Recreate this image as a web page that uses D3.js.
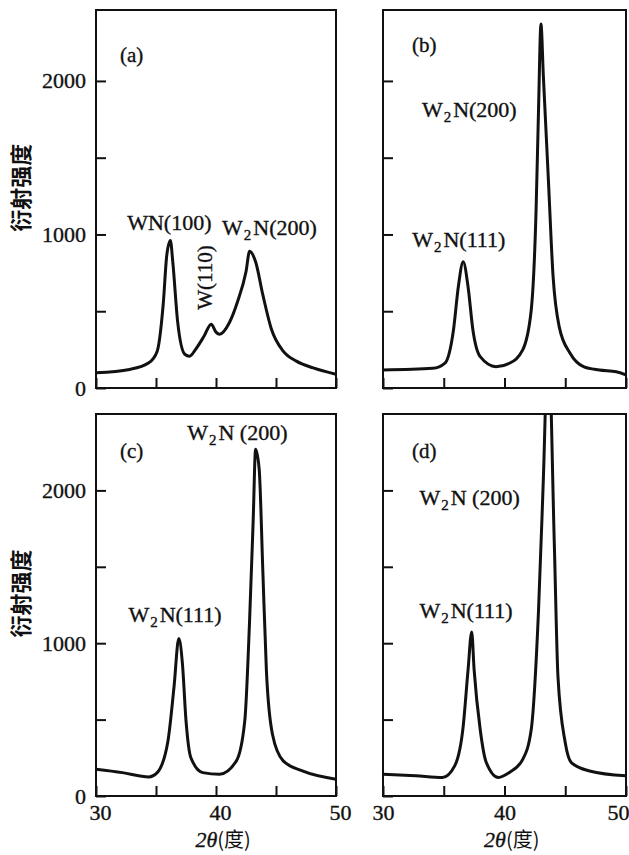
<!DOCTYPE html>
<html>
<head>
<meta charset="utf-8">
<script src="https://cdn.jsdelivr.net/npm/d3@7"></script>
<style>
  body { margin: 0; background: #fff; }
  text { font-family: "Liberation Serif", "DejaVu Serif", serif; fill: #111; stroke: #111; stroke-width: 0.35; }
  .cjk { font-family: "Noto Sans CJK SC", sans-serif; font-weight: bold; stroke: none; }
</style>
</head>
<body>
<svg id="chart" width="629" height="855"></svg>
<script>
// 2θ (deg) and diffraction intensity
var angleA = [30, 32.8, 34.4, 35.1, 35.6, 35.9, 36.2, 36.4, 36.8, 37.4, 37.8, 38.3, 39.0, 39.6, 40.0, 40.3, 41.1, 41.8, 42.5, 42.8, 43.3, 43.9, 44.6, 45.6, 46.7, 48.1, 50];
var intensityA = [99, 121, 164, 240, 545, 866, 960, 820, 434, 220, 207, 252, 337, 416, 364, 350, 423, 563, 757, 890, 822, 608, 388, 240, 175, 131, 90];

var angleB = [30, 34.1, 35.1, 35.8, 36.2, 36.6, 37.0, 37.4, 38.0, 39.3, 40.4, 41.5, 42.2, 42.6, 42.8, 43.0, 43.2, 43.6, 44.0, 44.5, 45.4, 46.5, 47.8, 49.2, 50];
var intensityB = [117, 128, 162, 378, 660, 823, 660, 378, 204, 139, 161, 248, 508, 1160, 1811, 2370, 2028, 1377, 725, 400, 226, 139, 117, 106, 85];

var angleC = [30, 32.2, 34.4, 35.1, 36.0, 36.5, 36.9, 37.2, 37.5, 37.9, 38.9, 40.3, 41.7, 42.4, 42.8, 43.1, 43.3, 43.6, 43.9, 44.2, 44.7, 45.6, 47.2, 50];
var intensityC = [175, 153, 125, 153, 362, 712, 1030, 868, 493, 252, 153, 143, 230, 493, 1151, 1809, 2270, 2138, 1480, 822, 406, 230, 164, 110];

var angleD = [30, 32.7, 34.9, 35.9, 36.6, 37.0, 37.3, 37.5, 38.0, 38.5, 39.5, 40.4, 41.5, 42.2, 42.8, 43.2, 43.6, 44.1, 44.4, 45.0, 45.5, 47.0, 50];
var intensityD = [143, 132, 121, 197, 456, 825, 1073, 825, 435, 219, 121, 154, 240, 435, 1214, 2080, 3000, 1650, 781, 349, 219, 164, 132];

var xTicks = [30, 35, 40, 45, 50];
var xLabels = [30, 40, 50];
var yTicks = [0, 500, 1000, 1500, 2000];
var yLabels = [0, 1000, 2000];

// peak annotations, positioned in data units (2θ, intensity)
var notesA = [
  { t: 'WN(100)', x: 32.6, y: 1030 },
  { t: 'W2N(200)', x: 40.5, y: 997 },
  { t: 'W(110)', x: 39.7, y: 720, rot: true }
];
var notesB = [
  { t: 'W2N(200)', x: 33.2, y: 1765 },
  { t: 'W2N(111)', x: 32.4, y: 918 }
];
var notesC = [
  { t: 'W2N (200)', x: 37.6, y: 2330 },
  { t: 'W2N(111)', x: 32.7, y: 1139 }
];
var notesD = [
  { t: 'W2N (200)', x: 33.0, y: 1904 },
  { t: 'W2N(111)', x: 33.0, y: 1165 }
];

var panels = [
  { tag: '(a)', angle: angleA, inten: intensityA, notes: notesA, left: 96,  top: 10,  w: 240, h: 378, yMax: 2462, yLab: true,  xLab: false },
  { tag: '(b)', angle: angleB, inten: intensityB, notes: notesB, left: 383, top: 10,  w: 243, h: 378, yMax: 2462, yLab: false, xLab: false },
  { tag: '(c)', angle: angleC, inten: intensityC, notes: notesC, left: 96,  top: 414, w: 240, h: 382, yMax: 2500, yLab: true,  xLab: true },
  { tag: '(d)', angle: angleD, inten: intensityD, notes: notesD, left: 383, top: 414, w: 243, h: 382, yMax: 2500, yLab: false, xLab: true }
];

var svg = d3.select('#chart');

function addLabel(sel, s) {
  // W2N -> W with subscript 2
  var m = s.match(/^W2N(.*)$/);
  if (!m) { sel.text(s); return; }
  sel.append('tspan').text('W');
  sel.append('tspan').attr('font-size', 15).attr('dy', 5).attr('dx', 1).text('2');
  sel.append('tspan').attr('dy', -5).attr('dx', 2).text('N' + m[1]);
}

panels.forEach(function (p, i) {
  var x = d3.scaleLinear().domain([30, 50]).range([0, p.w]);
  var y = d3.scaleLinear().domain([0, p.yMax]).range([p.h, 0]);

  var g = svg.append('g').attr('transform', 'translate(' + p.left + ',' + p.top + ')');

  g.append('clipPath').attr('id', 'clip' + i)
    .append('rect').attr('width', p.w).attr('height', p.h);

  var xAxis = d3.axisBottom(x)
    .tickValues(xTicks)
    .tickSize(-10)
    .tickPadding(8)
    .tickFormat(function (d) { return p.xLab && xLabels.indexOf(d) >= 0 ? d : ''; });

  var yAxis = d3.axisLeft(y)
    .tickValues(yTicks)
    .tickSize(-10)
    .tickPadding(10)
    .tickFormat(function (d) { return p.yLab && yLabels.indexOf(d) >= 0 ? d : ''; });

  var gx = g.append('g').attr('transform', 'translate(0,' + p.h + ')').call(xAxis);
  var gy = g.append('g').call(yAxis);
  [gx, gy].forEach(function (a) {
    a.select('.domain').remove();
    a.selectAll('line').attr('stroke', '#111').attr('stroke-width', 2);
    a.selectAll('text')
      .attr('font-family', '"Liberation Serif", serif')
      .attr('font-size', 22)
      .attr('fill', '#111');
  });
  // the last x label sits at the page edge in the source; keep it on the page
  if (i === 3) gx.selectAll('text').filter(function (d) { return d === 50; }).attr('text-anchor', 'end').attr('dx', 3);
  if (i === 2) gx.selectAll('text').attr('dx', 4);

  g.append('rect')
    .attr('width', p.w).attr('height', p.h)
    .attr('fill', 'none').attr('stroke', '#111').attr('stroke-width', 2);

  var pts = p.angle.map(function (a, k) { return [a, p.inten[k]]; });
  var line = d3.line()
    .x(function (d) { return x(d[0]); })
    .y(function (d) { return y(d[1]); })
    .curve(d3.curveMonotoneX);

  g.append('path')
    .datum(pts)
    .attr('clip-path', 'url(#clip' + i + ')')
    .attr('d', line)
    .attr('fill', 'none')
    .attr('stroke', '#111')
    .attr('stroke-width', 3)
    .attr('stroke-linejoin', 'round');

  g.append('text')
    .attr('x', x(p.angle[0]) + (i % 2 ? 29 : 24))
    .attr('y', i < 2 ? (i ? 42 : 52) : 44)
    .attr('font-size', 21)
    .text(p.tag);

  p.notes.forEach(function (n) {
    var t = g.append('text').attr('font-size', 22);
    if (n.rot) {
      t.attr('text-anchor', 'middle')
        .attr('font-size', 21)
        .attr('transform', 'translate(' + x(n.x) + ',' + y(n.y) + ') rotate(-90)');
    } else {
      t.attr('x', x(n.x)).attr('y', y(n.y));
    }
    addLabel(t, n.t);
  });

  if (p.yLab) {
    svg.append('text')
      .attr('class', 'cjk')
      .attr('text-anchor', 'middle')
      .attr('font-size', 22)
      .attr('transform', 'translate(' + (p.left - 67) + ',' + (p.top + p.h * 0.47) + ') rotate(-90)')
      .text('衍射强度');
  }
  if (p.xLab) {
    var xl = svg.append('text')
      .attr('text-anchor', 'middle')
      .attr('font-size', 22)
      .attr('x', p.left + p.w * 0.53)
      .attr('y', 847);
    xl.append('tspan').attr('font-style', 'italic').text('2θ');
    xl.append('tspan').attr('font-family', '"Noto Sans CJK SC", sans-serif').attr('stroke', 'none').attr('font-size', 20).text('(度)');
  }
});
</script>
</body>
</html>
